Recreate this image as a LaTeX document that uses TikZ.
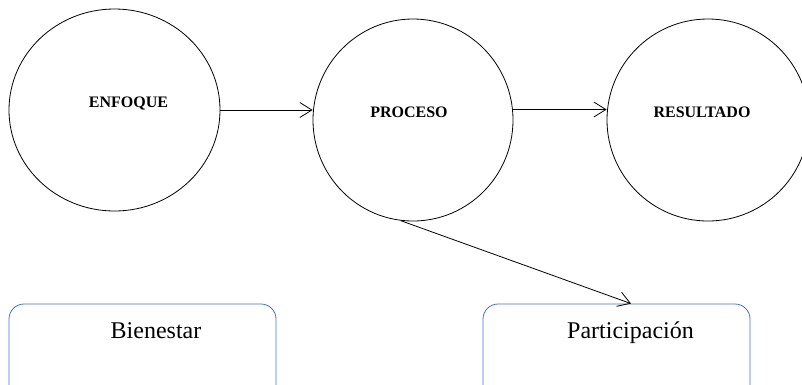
\documentclass[tikz,border=0pt]{standalone}
\usepackage{fontspec}
\setmainfont{Liberation Serif}
\usetikzlibrary{shapes.geometric,arrows.meta,calc}
\definecolor{boxblue}{HTML}{4472C4}
\tikzset{
  bubble/.style={ellipse,draw=black,line width=0.8pt,inner sep=0pt},
  captext/.style={anchor=base,inner sep=0pt,font=\fontsize{16}{19}\selectfont\bfseries},
  boxtext/.style={anchor=base,inner sep=0pt,font=\fontsize{24}{28}\selectfont},
  roundbox/.style={draw=boxblue,line width=0.8pt,rounded corners=15pt,inner sep=0pt,minimum width=267pt,minimum height=100pt},
  link/.style={draw=black,line width=0.8pt,-{Straight Barb[length=12pt,width=15pt,line width=0.8pt]}}
}
\begin{document}
\begin{tikzpicture}[x=1pt,y=-1pt]
\useasboundingbox (0,0) rectangle (802,384);
\clip (0,0) rectangle (802,384);
\fill[white] (0,0) rectangle (802,384);
\node[bubble,minimum width=211pt,minimum height=202pt] (enf) at (114.5,110) {};
\node[bubble,minimum width=200pt,minimum height=202pt] (pro) at (413,120) {};
\node[bubble,minimum width=202pt,minimum height=202pt] (res) at (708,120) {};
\node[captext] (enft) at (128.5,107.5) {ENFOQUE};
\node[captext] (prot) at (409,117) {PROCESO};
\node[captext] (rest) at (702,117) {RESULTADO};
\node[roundbox] (bien) at (142.5,354) {};
\node[roundbox] (part) at (616.5,354) {};
\node[boxtext] (bient) at (156,338) {Bienestar};
\node[boxtext] (partt) at (630.5,338) {Participación};
\coordinate (partin) at ($(part.north)+(14.5,0)$);
\draw[link] (enf.east) -- (enf.east -| pro.west);
\draw[link] (pro.6) -- (pro.6 -| res.west);
\draw[link] (pro.263) -- (partin);
\end{tikzpicture}
\end{document}
